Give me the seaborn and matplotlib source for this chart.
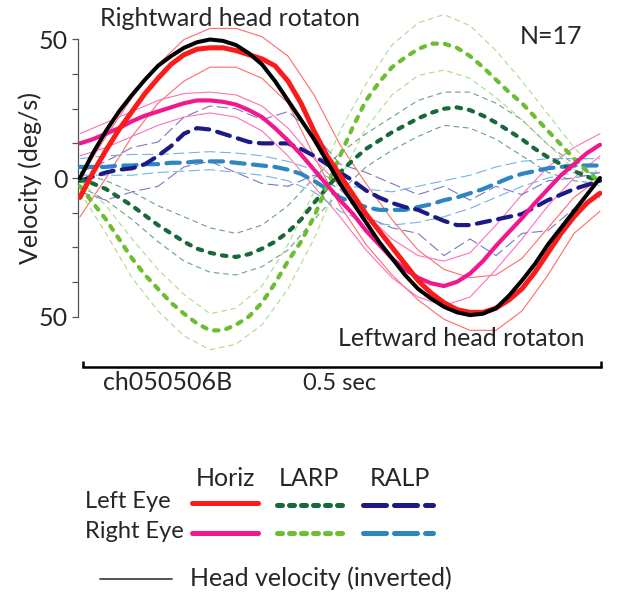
import numpy as np
import pandas as pd
import seaborn as sns
import matplotlib
matplotlib.use("Agg")
import matplotlib.pyplot as plt
from matplotlib.lines import Line2D
from matplotlib.ticker import FixedLocator, FixedFormatter

# time base (s) for the mean traces, 12.5 ms steps
t_fine = [0.0000, 0.0125, 0.0250, 0.0375, 0.0500, 0.0625, 0.0750, 0.0875, 0.1000, 0.1125,
          0.1250, 0.1375, 0.1500, 0.1625, 0.1750, 0.1875, 0.2000, 0.2125, 0.2250, 0.2375,
          0.2500, 0.2625, 0.2750, 0.2875, 0.3000, 0.3125, 0.3250, 0.3375, 0.3500, 0.3625,
          0.3750, 0.3875, 0.4000, 0.4125, 0.4250, 0.4375, 0.4500, 0.4625, 0.4750, 0.4875, 0.5000]

# mean velocities (deg/s)
head_inv = [0, 9, 17, 24, 30, 35.5, 40.5, 44, 47, 49, 50, 49.5, 48, 45, 41, 35, 28, 21, 14, 6,
            -2, -9, -16, -23, -29, -35, -40, -43.5, -46.5, -48.5, -49.5, -49, -47, -42.5, -37,
            -31, -24, -18, -12, -6, 0]
left_horiz = [-7, 2, 10, 17.5, 24, 30.5, 36, 41, 44.5, 46.5, 47, 47, 46, 44.5, 43, 40.5, 35, 27,
              17, 8, 1, -6, -13, -19, -25, -31, -37, -41.5, -45, -47.5, -48.5, -48.5, -47, -44,
              -40, -34, -27, -20, -14, -9, -5.5]
right_horiz = [12.5, 14, 16, 18, 20.5, 22.5, 24, 25.5, 27, 28, 28, 27.5, 26.5, 24.5, 22, 18, 13.5,
               8.5, 3, -2.5, -8, -13, -19, -24, -29, -33, -36, -38, -39, -37.5, -34.5, -30, -24.5,
               -19.5, -14.5, -9, -4, 1, 5, 9, 12]
left_larp = [-0.5, -2, -4, -7, -10, -13.5, -17, -20, -23, -25.5, -27, -28, -28.5, -27.5, -25.5, -23,
             -19.5, -15, -9, -3.5, 2, 6.5, 10.5, 13.5, 16.5, 19, 21.5, 23.5, 25, 25.5, 24.5, 22.5,
             20, 17, 14, 10.5, 7.5, 5, 2.5, 0.5, -1]
right_larp = [-3, -9, -15, -22, -29, -35, -40, -45, -49, -52.5, -55, -55, -53, -50, -45, -38, -30, -23,
              -14, -3, 8, 18.5, 28, 34.5, 40, 43.5, 46.5, 48.5, 48.5, 47, 44, 40, 35.5, 31, 27, 22,
              17, 12, 7, 2.5, -1.5]
left_ralp = [-1, 0.5, 2, 3, 3.5, 5, 8, 11.5, 16, 18, 17.5, 16, 14.5, 13, 12.5, 12.5, 12.5, 10.5, 8, 5,
             2, -1, -4.5, -7, -9, -10.5, -11.5, -13.5, -15.5, -17, -17, -16, -15, -14, -13, -10.5,
             -8, -6, -4, -2.5, -1]
right_ralp = [4, 4, 4, 4.5, 4.5, 5, 5, 5.5, 5.5, 6, 6, 6, 5.5, 5, 4.5, 4, 3, 1.5, -1, -4, -7, -9,
              -10.5, -11.5, -11.5, -11.5, -10.5, -9.5, -8, -7, -5.5, -4, -2, 0, 1.5, 2.5, 3.5, 4,
              4.5, 4.5, 4.5]

# time base for the thin individual-spread traces, 25 ms steps
t_coarse = [0.000, 0.025, 0.050, 0.075, 0.100, 0.125, 0.150, 0.175, 0.200, 0.225, 0.250,
            0.275, 0.300, 0.325, 0.350, 0.375, 0.400, 0.425, 0.450, 0.475, 0.500]

left_horiz_hi = [0, 15, 29, 41, 50, 54, 54, 51, 44, 30, 12, -2, -15, -26, -33, -36, -35, -29, -18, -7, 0]
left_horiz_lo = [-14, 0, 15, 27, 35, 40, 40, 36, 27, 8, -10, -24, -35, -44, -51, -55, -55, -48, -35, -20, -12]
right_horiz_hi = [16, 20, 24, 28, 30.5, 31, 30, 26, 18, 7, -3, -13, -22, -28, -30, -27, -17, -6, 4, 11, 16]
right_horiz_lo = [8, 11, 15, 19, 22, 23.5, 22, 17, 8, -3, -14, -26, -36, -43, -46, -43, -33, -22, -10, 0, 8]
left_larp_hi = [2, -1, -5, -10, -14, -18, -20, -17, -10, 0, 9, 16, 22, 28, 31, 31, 27, 21, 12, 5, 0]
left_larp_lo = [-3, -8, -15, -23, -30, -34, -35, -32, -26, -15, -5, 4, 10, 15, 19, 18, 14, 8, 2, -1, -2]
right_larp_hi = [-1, -10, -22, -33, -42, -49, -47, -39, -24, -5, 17, 34, 48, 56, 59, 55, 46, 35, 23, 11, 1]
right_larp_lo = [-5, -20, -36, -48, -57, -62, -60, -53, -40, -22, 0, 18, 30, 37, 39, 36, 29, 21, 12, 3, -3]
left_ralp_hi = [2, 6, 11, 13, 22, 26, 25, 21, 24, 16, 5, 2, -2, -6, -3, -8, -3, -6, -1, 0, 2]
left_ralp_lo = [-5, -8, -5, -3, 4, 6, 2, -2, -3, 1, -4, -14, -18, -20, -28, -22, -28, -20, -19, -11, -7]
right_ralp_hi = [7, 8, 8.5, 8.5, 9, 9.5, 9, 8, 6, 3, -2, -4, -5, -3, -1, 1, 4, 6, 7, 7, 7]
right_ralp_lo = [1, 1, 1, 2, 2.5, 3, 2, 1, -1, -5, -12, -16, -17, -16, -14, -11, -7, -3, 0, 2, 2]

RED, PINK = "#fb1b1b", "#f2168f"
DGREEN, LGREEN = "#17683a", "#6cbd2f"
DBLUE, LBLUE = "#1c1a86", "#2d86c2"

GREEN_DASH = (0, (1.1, 1.9))
BLUE_DASH = (0, (3.2, 2.0))

sns.set_style("white")
plt.rcParams["font.family"] = ["Lato", "DejaVu Sans"]

W, H = 617, 604
fig = plt.figure(figsize=(W / 100, H / 100), dpi=100)


def fx(px):
    return px / W


def fy(py):
    return 1 - py / H


ylo, yhi = -66, 64
ppu = 2.77
top_px = 178 - yhi * ppu
bot_px = 178 - ylo * ppu
ax = fig.add_axes([fx(78), fy(bot_px), fx(602) - fx(78), (bot_px - top_px) / H])
ax.set_xlim(-2 / 1040, 0.5 + 2 / 1040)
ax.set_ylim(ylo, yhi)

thin = [
    (left_horiz_hi, "#ff6b6b", "-"), (left_horiz_lo, "#ff6b6b", "-"),
    (right_horiz_hi, "#ff70b8", "-"), (right_horiz_lo, "#ff70b8", "-"),
    (left_larp_hi, "#6a9f8c", (0, (5, 3.5))), (left_larp_lo, "#6a9f8c", (0, (5, 3.5))),
    (right_larp_hi, "#aedb8a", (0, (5, 3.5))), (right_larp_lo, "#aedb8a", (0, (5, 3.5))),
    (left_ralp_hi, "#7a78c4", (0, (10, 4))), (left_ralp_lo, "#7a78c4", (0, (10, 4))),
    (right_ralp_hi, "#72b4e2", (0, (10, 4))), (right_ralp_lo, "#72b4e2", (0, (10, 4))),
]
for vals, col, ls in thin:
    sns.lineplot(x=t_coarse, y=vals, ax=ax, color=col, lw=0.8, linestyle=ls, zorder=2)

thick = [
    (right_ralp, LBLUE, 3.0, BLUE_DASH),
    (left_ralp, DBLUE, 3.0, BLUE_DASH),
    (left_larp, DGREEN, 3.0, GREEN_DASH),
    (right_larp, LGREEN, 3.0, GREEN_DASH),
    (right_horiz, PINK, 3.0, "-"),
    (left_horiz, RED, 3.6, "-"),
    (head_inv, "black", 2.9, "-"),
]
for vals, col, lw, ls in thick:
    sns.lineplot(x=t_fine, y=vals, ax=ax, color=col, lw=lw, linestyle=ls,
                 dash_capstyle="round", solid_capstyle="round", solid_joinstyle="round", zorder=3)

# axes styling
for s in ["top", "right"]:
    ax.spines[s].set_visible(False)
ax.spines["left"].set_bounds(-50, 50)
ax.spines["left"].set_color("#555555")
ax.spines["left"].set_linewidth(0.9)
ax.yaxis.set_major_locator(FixedLocator([-50, -37.5, -25, -12.5, 0, 12.5, 25, 37.5, 50]))
ax.yaxis.set_major_formatter(FixedFormatter(["50", "", "", "", "0", "", "", "", "50"]))
ax.tick_params(axis="y", direction="out", length=4.5, width=0.9, color="#555555",
               labelsize=18, pad=3, left=True)
ax.spines["bottom"].set_position(("outward", 4.5))
ax.spines["bottom"].set_bounds(3 / 1040, 0.5 + 1 / 1040)
ax.spines["bottom"].set_linewidth(1.8)
ax.spines["bottom"].set_color("black")
ax.xaxis.set_major_locator(FixedLocator([3 / 1040, 0.5 + 1 / 1040]))
ax.tick_params(axis="x", direction="in", length=4.5, width=1.8, color="black",
               labelbottom=False, bottom=True)
ax.set_xlabel("")
ax.set_ylabel("")
ax.grid(False)

fs = 18
fig.text(fx(30), fy(178), "Velocity (deg/s)", rotation=90, fontsize=fs, ha="center", va="center")
fig.text(fx(100), fy(18), "Rightward head rotaton", fontsize=fs, ha="left", va="center")
fig.text(fx(582), fy(37), "N=17", fontsize=fs, ha="right", va="center")
fig.text(fx(585), fy(338), "Leftward head rotaton", fontsize=fs, ha="right", va="center")
fig.text(fx(103), fy(383), "ch050506B", fontsize=fs, ha="left", va="center")
fig.text(fx(303), fy(383), "0.5 sec", fontsize=fs - 1, ha="left", va="center")

# legend block
fig.text(fx(225), fy(478), "Horiz", fontsize=fs, ha="center", va="center")
fig.text(fx(309), fy(478), "LARP", fontsize=fs, ha="center", va="center")
fig.text(fx(400), fy(478), "RALP", fontsize=fs, ha="center", va="center")
fig.text(fx(85), fy(502), "Left Eye", fontsize=fs - 1, ha="left", va="center")
fig.text(fx(85), fy(532), "Right Eye", fontsize=fs - 1, ha="left", va="center")
fig.text(fx(190), fy(578), "Head velocity (inverted)", fontsize=fs, ha="left", va="center")

keys = [
    (192, 258, 503, RED, "-"), (277, 344, 505, DGREEN, (0, (1.0, 1.4))), (363, 433, 505, DBLUE, (0, (4.6, 1.6))),
    (192, 258, 533, PINK, "-"), (277, 344, 533, LGREEN, (0, (1.0, 1.4))), (363, 433, 533, LBLUE, (0, (4.6, 1.6))),
]
for x0, x1, yy, col, ls in keys:
    fig.add_artist(Line2D([fx(x0), fx(x1)], [fy(yy), fy(yy)], transform=fig.transFigure,
                          color=col, lw=3.6, linestyle=ls, solid_capstyle="round",
                          dash_capstyle="round"))
fig.add_artist(Line2D([fx(100), fx(172)], [fy(579), fy(579)], transform=fig.transFigure,
                      color="#333333", lw=1.2))

fig.savefig("out.png", dpi=100)
